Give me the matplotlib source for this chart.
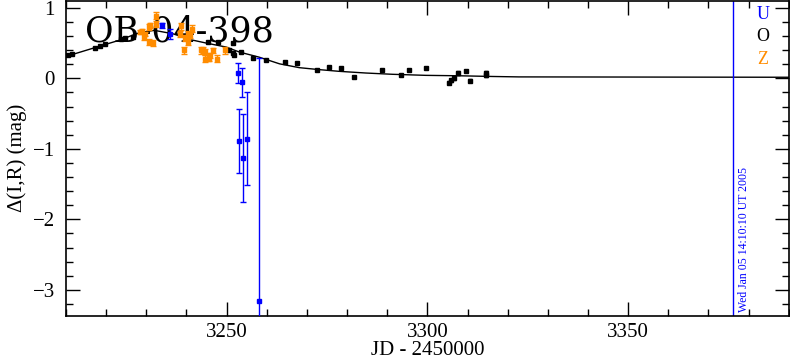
import numpy as np
import matplotlib
matplotlib.use('Agg')
import matplotlib.pyplot as plt
from matplotlib.ticker import MultipleLocator

# Datos (JD - 2450000, Delta mag)
# Serie O (negro)
o_x = [3210.4, 3211.5, 3217.3, 3218.5, 3219.6, 3223.7, 3224.6, 3226.6, 3245.4, 3247.8,
       3251.5, 3250.7, 3251.7, 3251.9, 3253.6, 3256.6, 3259.8, 3264.6, 3267.5, 3272.6,
       3275.6, 3278.6, 3281.7, 3288.6, 3293.5, 3295.5, 3299.6, 3305.3, 3305.8, 3306.6,
       3307.6, 3309.6, 3310.6, 3314.5, 3314.5]
o_y = [0.325, 0.34, 0.434, 0.453, 0.49, 0.556, 0.57, 0.584, 0.513, 0.513,
       0.50, 0.396, 0.358, 0.335, 0.372, 0.293, 0.255, 0.23, 0.216, 0.113,
       0.16, 0.141, 0.024, 0.123, 0.047, 0.123, 0.151, -0.06, -0.03, 0.0,
       0.08, 0.10, -0.033, 0.07, 0.04]
o_err = [0.01, 0.01, 0.01, 0.01, 0.01, 0.01, 0.01, 0.01, 0.01, 0.01,
         0.01, 0.01, 0.01, 0.01, 0.01, 0.01, 0.01, 0.01, 0.01, 0.01,
         0.01, 0.01, 0.01, 0.01, 0.01, 0.01, 0.01, 0.02, 0.02, 0.02,
         0.03, 0.01, 0.02, 0.03, 0.02]

# Serie Z (naranja)
z_x = [3228.5, 3229.0, 3229.5, 3229.8, 3230.6, 3230.9, 3230.6, 3231.6, 3232.4, 3232.4,
       3238.7, 3238.4, 3239.7, 3240.3, 3240.9, 3241.5, 3240.3, 3239.5, 3243.6, 3244.0,
       3244.6, 3244.6, 3245.7, 3245.9, 3246.5, 3247.6, 3249.7]
z_y = [0.655, 0.67, 0.584, 0.632, 0.726, 0.75, 0.513, 0.50, 0.89, 0.774,
       0.74, 0.632, 0.576, 0.632, 0.608, 0.703, 0.513, 0.396, 0.396, 0.40,
       0.372, 0.279, 0.279, 0.325, 0.396, 0.279, 0.40]
z_err = [0.03, 0.03, 0.04, 0.03, 0.04, 0.04, 0.04, 0.04, 0.05, 0.04,
         0.05, 0.04, 0.04, 0.04, 0.04, 0.05, 0.04, 0.05, 0.05, 0.04,
         0.04, 0.05, 0.04, 0.04, 0.04, 0.05, 0.05]

# Serie U (azul)
u_x = [3234.0, 3236.0, 3252.9, 3253.9, 3253.1, 3254.1, 3255.0, 3258.0]
u_y = [0.75, 0.63, 0.08, -0.057, -0.887, -1.127, -0.858, -3.16]
u_err = [0.04, 0.075, 0.14, 0.21, 0.45, 0.62, 0.66, 3.45]

# Curva del modelo
curve_x = [3210, 3217.5, 3223.7, 3227.5, 3229.1, 3232, 3236.6, 3241.1, 3244.9, 3249.9,
           3253.2, 3258.1, 3263.2, 3268.1, 3273.1, 3278, 3284.7, 3291.3, 3299.6, 3307.9,
           3316.2, 3322.8, 3350, 3390]
curve_y = [0.31, 0.44, 0.547, 0.632, 0.655, 0.68, 0.632, 0.547, 0.50, 0.443,
           0.372, 0.30, 0.205, 0.151, 0.123, 0.099, 0.075, 0.057, 0.042, 0.036,
           0.026, 0.02, 0.018, 0.015]

now_jd = 3376.1
now_label = 'Wed Jan 05 14:10:10 UT 2005'

orange = '#ff8c00'
blue = '#0000ff'
serif = 'Liberation Serif'

fig = plt.figure(figsize=(7.9, 3.62), dpi=100)
ax = fig.add_axes([0.0835, 0.127, 0.915, 0.871])

# Curva
ax.plot(curve_x, curve_y, color='black', linewidth=1.0, zorder=2)

# Puntos
ax.errorbar(o_x, o_y, yerr=o_err, fmt='s', color='black', markersize=2.3,
            elinewidth=1.0, capsize=1.5, zorder=3)
ax.errorbar(z_x, z_y, yerr=z_err, fmt='s', color=orange, markersize=2.3,
            elinewidth=1.0, capsize=2, zorder=3)
ax.errorbar(u_x, u_y, yerr=u_err, fmt='s', color=blue, markersize=2.3,
            elinewidth=1.0, capsize=2, zorder=4)

# Linea vertical de la fecha
ax.axvline(now_jd, color=blue, linewidth=1.0)
ax.text(now_jd + 1.2, -3.31, now_label, rotation=90, color=blue,
        fontsize=8.5, family=serif, ha='left', va='bottom')

# Titulo y leyenda
ax.text(0.026, 0.955, 'OB-04-398', transform=ax.transAxes, fontsize=25,
        family='DejaVu Serif', ha='left', va='top', zorder=1)
ax.text(0.964, 0.955, 'U', transform=ax.transAxes, color=blue, fontsize=13,
        family=serif, ha='center', va='center')
ax.text(0.964, 0.885, 'O', transform=ax.transAxes, color='black', fontsize=13,
        family=serif, ha='center', va='center')
ax.text(0.964, 0.815, 'Z', transform=ax.transAxes, color=orange, fontsize=13,
        family=serif, ha='center', va='center')

ax.set_xlim(3210, 3390)
ax.set_ylim(-3.37, 1.1)
ax.xaxis.set_major_locator(MultipleLocator(50))
ax.xaxis.set_minor_locator(MultipleLocator(10))
ax.yaxis.set_major_locator(MultipleLocator(1))
ax.yaxis.set_minor_locator(MultipleLocator(0.2))
ax.tick_params(which='both', direction='in', top=True, right=True, width=1.0)
ax.tick_params(which='major', length=10, labelsize=15)
ax.tick_params(axis='x', which='major', pad=5)
ax.tick_params(axis='y', which='major', pad=8)
ax.tick_params(which='minor', length=5)
for lab in ax.get_xticklabels() + ax.get_yticklabels():
    lab.set_family(serif)
for sp in ax.spines.values():
    sp.set_linewidth(1.2)

ax.set_xlabel('JD - 2450000', fontsize=15, family=serif, labelpad=-1)
ax.set_ylabel('Δ(I,R) (mag)', fontsize=15, family=serif, labelpad=4)

fig.savefig('out.png', dpi=100)
